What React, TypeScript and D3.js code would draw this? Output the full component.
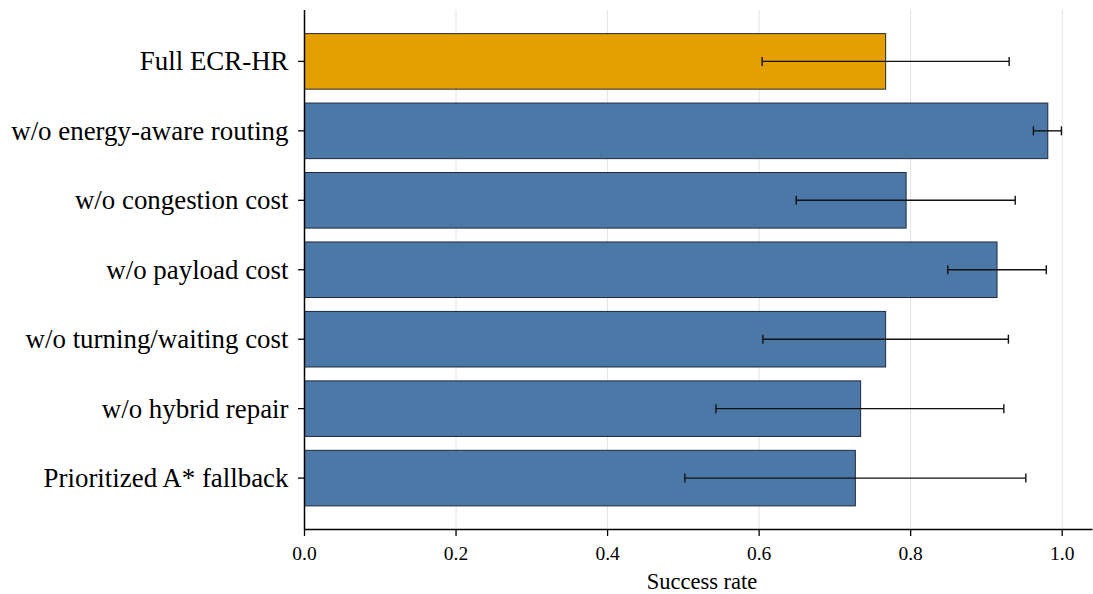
import React from "react";
import * as d3 from "d3";

// Ablation variants, top to bottom
const variants = [
  "Full ECR-HR",
  "w/o energy-aware routing",
  "w/o congestion cost",
  "w/o payload cost",
  "w/o turning/waiting cost",
  "w/o hybrid repair",
  "Prioritized A* fallback",
];

// Mean success rate per variant
const successRate = [0.767, 0.981, 0.794, 0.914, 0.767, 0.734, 0.727];
// Lower / upper bounds of the error bars
const ciLow = [0.604, 0.962, 0.649, 0.849, 0.605, 0.543, 0.502];
const ciHigh = [0.93, 0.999, 0.938, 0.979, 0.929, 0.923, 0.952];

const xTicks = [0, 0.2, 0.4, 0.6, 0.8, 1.0];

const W = 1093;
const H = 594;
const left = 304.5;
const right = 1092.5;
const top = 10;
const bottom = 529.5;

const FONT = "'Liberation Serif', 'Times New Roman', Times, serif";

export default function App() {
  const x = d3.scaleLinear().domain([0, 1.04]).range([left, right]);
  const n = variants.length;
  const y = d3.scaleLinear().domain([-0.74, n - 1 + 0.74]).range([top, bottom]);
  const pitch = y(1) - y(0);
  const barH = 0.8 * pitch;
  const capH = 9;

  return (
    <svg
      width={W}
      height={H}
      style={{ position: "fixed", left: 0, top: 0, background: "#fff" }}
      fontFamily={FONT}
    >
      {/* vertical grid */}
      {xTicks.map((t) => (
        <line
          key={"g" + t}
          x1={x(t)}
          x2={x(t)}
          y1={top}
          y2={bottom}
          stroke="#e3e3e8"
          strokeWidth={1}
        />
      ))}

      {/* bars */}
      {variants.map((v, i) => (
        <rect
          key={"b" + v}
          x={x(0)}
          y={y(i) - barH / 2}
          width={x(successRate[i]) - x(0)}
          height={barH}
          fill={i === 0 ? "#E69F00" : "#4C78A8"}
          stroke="#1f2a3a"
          strokeWidth={1}
        />
      ))}

      {/* error bars */}
      {variants.map((v, i) => (
        <g key={"e" + v} stroke="#111" strokeWidth={1.4}>
          <line x1={x(ciLow[i])} x2={x(ciHigh[i])} y1={y(i)} y2={y(i)} />
          <line x1={x(ciLow[i])} x2={x(ciLow[i])} y1={y(i) - capH / 2} y2={y(i) + capH / 2} />
          <line x1={x(ciHigh[i])} x2={x(ciHigh[i])} y1={y(i) - capH / 2} y2={y(i) + capH / 2} />
        </g>
      ))}

      {/* spines */}
      <line x1={left} x2={left} y1={top} y2={bottom} stroke="#000" strokeWidth={1.5} />
      <line x1={left} x2={right} y1={bottom} y2={bottom} stroke="#000" strokeWidth={1.5} />

      {/* y ticks & labels */}
      {variants.map((v, i) => (
        <g key={"yl" + v}>
          <line x1={left - 6.5} x2={left} y1={y(i)} y2={y(i)} stroke="#000" strokeWidth={1.3} />
          <text
            x={left - 16}
            y={y(i)}
            textAnchor="end"
            dominantBaseline="central"
            fontSize={26.9}
            fill="#000"
          >
            {v}
          </text>
        </g>
      ))}

      {/* x ticks & labels */}
      {xTicks.map((t) => (
        <g key={"xt" + t}>
          <line x1={x(t)} x2={x(t)} y1={bottom} y2={bottom + 6.5} stroke="#000" strokeWidth={1.3} />
          <text x={x(t)} y={560} textAnchor="middle" fontSize={19.5} fill="#000">
            {d3.format(".1f")(t)}
          </text>
        </g>
      ))}

      <text x={702} y={589} textAnchor="middle" fontSize={22.5} fill="#000">
        Success rate
      </text>
    </svg>
  );
}
